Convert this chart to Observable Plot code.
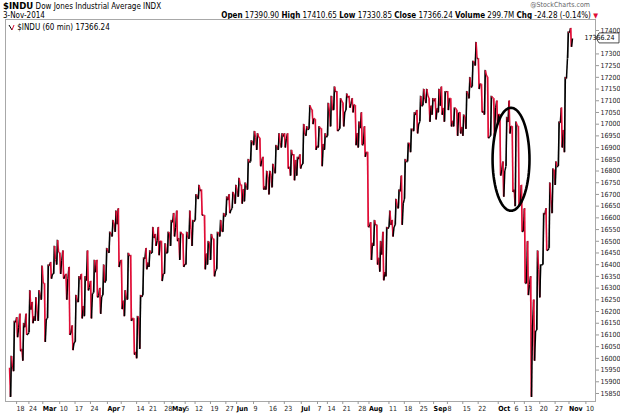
<!DOCTYPE html>
<html><head><meta charset="utf-8">
<script src="https://cdn.jsdelivr.net/npm/d3@7"></script>
<script src="https://cdn.jsdelivr.net/npm/@observablehq/plot@0.6"></script>
<style>
body{margin:0;background:#fff;}
#wrap{position:relative;width:620px;height:415px;overflow:hidden;background:#fff;
 font-family:"Liberation Sans Narrow","Arial Narrow","DejaVu Sans Condensed",sans-serif;color:#000;}
.hdr{position:absolute;font-size:8px;white-space:nowrap;line-height:9px;}
#chart{position:absolute;left:0;top:19px;}
</style></head><body>
<div id="wrap">
<div class="hdr" style="left:3px;top:1px;"><b style="font-size:9.5px">$INDU</b> Dow Jones Industrial Average INDX</div>
<div class="hdr" style="left:3px;top:11px;">3-Nov-2014</div>
<div class="hdr" style="right:30px;top:1px;color:#666;font-size:7px">@StockCharts.com</div>
<div class="hdr" id="ohlc" style="right:22px;top:11px;"></div>
<div id="chart"></div>
<div class="hdr" id="legend" style="left:8px;top:23px;"></div>
</div>
<script>
// ---- data (60-min $INDU, summarised per session: high / low / close) ----
const firstSession = "2014-02-13";
const lastAxisDay = "2014-11-21";
const holidays = ["2014-02-17","2014-04-18","2014-05-26","2014-07-04","2014-09-01"];
const firstOpen = 15960;

const high = [
 // Feb 13..28
 16010,16160,16175,16190,16150,16190,16290,16240,16260,16290,16395,
 // Mar
 16320,16400,16410,16480,16505,16450,16460,16360,16390,16140,16270,16350,16360,16350,16460,16330,16420,16420,16300,16400,16470,
 // Apr
 16540,16590,16630,16640,16420,16290,16450,16440,16170,16180,16270,16430,16470,16460,16560,16530,16560,16500,16490,16540,16590,
 // May
 16620,16630,16540,16530,16540,16630,16590,16700,16740,16720,16610,16500,16530,16510,16540,16590,16620,16690,16700,16710,16740,
 // Jun
 16770,16740,16750,16850,16930,16970,16960,16940,16860,16800,16800,16830,16910,16960,16960,16960,16960,16890,16870,16860,16870,
 // Jul
 17000,16990,17080,17060,17020,16990,16980,16960,17090,17120,17160,17140,17110,17090,17130,17120,17110,17080,17010,17050,16990,16880,
 // Aug
 16580,16590,16570,16500,16540,16560,16630,16590,16680,16720,16780,16850,16920,16980,17050,17060,17120,17150,17150,17110,17110,
 // Sep
 17110,17150,17160,17140,17140,17110,17070,17060,17050,17040,17140,17200,17270,17350,17280,17170,17230,17200,17120,17110,17100,
 // Oct
 17040,16840,17030,17100,16990,17010,16990,16740,16640,16500,16350,16250,16460,16400,16620,16640,16750,16810,16840,17010,17070,17200,17395,
 // Nov 3
 17410
];
const low = [
 15835,15945,16090,16030,15990,16100,16110,16150,16160,16160,16250,
 16070,16170,16340,16360,16400,16360,16340,16250,16100,16035,16070,16240,16170,16180,16290,16170,16280,16260,16190,16270,16330,
 16450,16520,16540,16390,16210,16180,16250,16160,16015,16000,16040,16270,16380,16390,16450,16480,16440,16330,16360,16450,16480,
 16520,16500,16420,16390,16400,16510,16480,16590,16680,16610,16380,16400,16420,16350,16380,16520,16540,16610,16620,16640,16660,
 16690,16660,16670,16720,16840,16910,16890,16820,16720,16720,16700,16730,16790,16890,16900,16900,16810,16780,16760,16780,16810,
 16830,16950,16980,17000,16890,16900,16820,16890,16950,16990,17060,16970,16980,16990,17060,17070,17050,16910,16900,16910,16860,16560,
 16420,16480,16400,16370,16333,16350,16560,16520,16570,16640,16570,16680,16840,16880,16970,16960,17010,17080,17090,17010,17040,
 17020,17050,17040,17010,17060,16990,16990,16950,16960,16950,16980,17110,17160,17250,17150,17050,17040,16940,16950,16950,17000,
 16780,16690,16820,16960,16710,16650,16650,16540,16320,16270,15835,15990,16120,16260,16400,16460,16470,16620,16740,16820,16900,16880,17280,
 17330
];
const close = [
 15963,16154,16130,16040,16133,16103,16208,16179,16198,16272,16322,
 16168,16396,16360,16422,16453,16419,16351,16340,16109,16066,16248,16337,16223,16332,16303,16277,16368,16268,16264,16324,16458,
 16533,16573,16573,16413,16246,16257,16438,16171,16027,16174,16263,16425,16409,16449,16514,16502,16501,16361,16448,16535,16581,
 16559,16513,16531,16402,16519,16551,16584,16696,16715,16613,16447,16492,16512,16375,16533,16543,16606,16676,16634,16699,16717,
 16743,16722,16738,16836,16924,16943,16945,16844,16734,16776,16782,16808,16906,16921,16947,16937,16818,16868,16847,16851,16827,
 16957,16976,17068,17025,16907,16985,16915,16944,17056,17061,17138,16977,17100,17052,17114,17087,17084,16961,16983,16913,16881,16563,
 16493,16569,16429,16443,16368,16554,16570,16561,16652,16713,16663,16839,16919,16979,17040,17001,17077,17107,17122,17079,17098,
 17068,17079,17069,17138,17111,17014,17068,17049,16988,17031,17131,17157,17266,17280,17173,17056,17210,16946,17113,17071,17043,
 16805,16802,17009,16992,16720,16995,16660,16544,16321,16315,16142,16117,16380,16400,16615,16462,16677,16805,16818,17006,16975,17195,17391,
 17366
];

const tickDates = ["2014-02-18","2014-02-24","2014-03-03","2014-03-10","2014-03-17","2014-03-24","2014-04-01","2014-04-07","2014-04-14","2014-04-21","2014-04-28","2014-05-01","2014-05-05","2014-05-12","2014-05-19","2014-05-27","2014-06-02","2014-06-09","2014-06-16","2014-06-23","2014-07-01","2014-07-07","2014-07-14","2014-07-21","2014-07-28","2014-08-01","2014-08-11","2014-08-18","2014-08-25","2014-09-02","2014-09-08","2014-09-15","2014-09-22","2014-10-01","2014-10-06","2014-10-13","2014-10-20","2014-10-27","2014-11-03","2014-11-10"];
const tickLabels = ["18","24","Mar","10","17","24","Apr","7","14","21","28","May","5","12","19","27","Jun","9","16","23","Jul","7","14","21","28","Aug","11","18","25","Sep","8","15","22","Oct","6","13","20","27","Nov","10"];
// 17350 sits under the last-value marker in the reference, so it is not labelled
const yTicks = d3.range(15850, 17401, 50).filter(v => v !== 17350);

const lastValue = 17366.24;
const quote = {Open:"17390.90", High:"17410.65", Low:"17330.85", Close:"17366.24", Volume:"299.7M", Chg:"-24.28 (-0.14%)"};
const circled = {from:"2014-09-29", to:"2014-10-14", hi:17070, lo:16630};

// ---- trading sessions (weekdays minus exchange holidays) ----
const fmt = d3.utcFormat("%Y-%m-%d");
const sessions = d3.utcDays(new Date(firstSession), d3.utcDay.offset(new Date(lastAxisDay), 1))
  .filter(d => d.getUTCDay() > 0 && d.getUTCDay() < 6 && !holidays.includes(fmt(d)))
  .map(fmt);
const idx = s => sessions.indexOf(s);

// intraday path of each session: open -> first extreme -> second extreme -> close
const pts = [];
close.forEach((c, i) => {
  const o = i === 0 ? firstOpen : close[i - 1];
  const up = c >= o;
  pts.push({x: i + 0.02, v: o});
  pts.push({x: i + 0.33, v: up ? low[i] : high[i]});
  pts.push({x: i + 0.66, v: up ? high[i] : low[i]});
  pts.push({x: i + 0.98, v: c});
});
const segs = d3.pairs(pts).map(([a, b]) => ({x1: a.x, y1: a.v, x2: b.x, y2: b.v, up: b.v >= a.v}));
const bars = close.map((c, i) => ({x: i + 0.5, high: high[i], low: low[i], up: c >= (i === 0 ? firstOpen : close[i - 1])}));

const ticks = tickDates.map((d, i) => ({x: idx(d), label: tickLabels[i], month: /[A-Za-z]/.test(tickLabels[i])}));
ticks.forEach((t, i) => { t.afterMonth = !t.month && i > 0 && ticks[i - 1].month && t.x - ticks[i - 1].x <= 3; });
const labelOf = v => ticks.find(t => t.x === v).label;

// ellipse annotation in data space
const cx = (idx(circled.from) + idx(circled.to) + 1) / 2;
const rx = (idx(circled.to) + 1 - idx(circled.from)) / 2;
const cy = (circled.hi + circled.lo) / 2, ry = (circled.hi - circled.lo) / 2;
const ell = d3.range(0, 361, 5).map(a => ({x: cx + rx * Math.cos(a * Math.PI / 180), y: cy + ry * Math.sin(a * Math.PI / 180)}));

const font = '"Liberation Sans Narrow","Arial Narrow","DejaVu Sans Condensed",sans-serif';
const RED = "#e00d36";
const axisOpts = {label: null, tickSize: 3, tickPadding: 2, textAnchor: "start", fontSize: 7, stroke: "#999", tickFormat: labelOf};

const chart = Plot.plot({
  width: 620, height: 396,
  marginLeft: 5, marginRight: 25, marginTop: 0, marginBottom: 14,
  x: {type: "linear", domain: [-1.28, 190.45], axis: null},
  y: {domain: [15815.8, 17447], axis: null},
  style: {fontFamily: font, background: "white", overflow: "visible"},
  marks: [
    Plot.ruleX(bars, {x: "x", y1: "low", y2: "high", stroke: d => d.up ? "#333" : RED, strokeWidth: 1.2, strokeOpacity: 0.75}),
    Plot.link(segs, {x1: "x1", y1: "y1", x2: "x2", y2: "y2", stroke: d => d.up ? "#000" : RED, strokeWidth: 1.5}),
    Plot.line(ell, {x: "x", y: "y", stroke: "#000", strokeWidth: 2.6, curve: "linear"}),
    Plot.frame({stroke: "#a8a8a8"}),
    Plot.axisX(ticks.filter(t => !t.month && !t.afterMonth).map(t => t.x), {...axisOpts, dx: 1, fill: "#222"}),
    Plot.axisX(ticks.filter(t => t.afterMonth).map(t => t.x), {...axisOpts, dx: 6.5, fill: "#222"}),
    Plot.axisX(ticks.filter(t => t.month).map(t => t.x), {...axisOpts, dx: -0.5, fontWeight: "bold", fill: "#000"}),
    Plot.axisY(yTicks, {label: null, anchor: "right", tickSize: 3, tickPadding: 2, fontSize: 7, stroke: "#999", fill: "#222", tickFormat: d => String(d)})
  ]
});
document.getElementById("chart").appendChild(chart);

// last value marker on the right axis
const svg = d3.select(chart);
const yv = chart.scale("y").apply(lastValue);
const g = svg.append("g");
g.append("path").attr("d", `M596,${yv} L599,${yv-5} L619,${yv-5} L619,${yv+5} L599,${yv+5} Z`)
  .attr("fill", "#fff").attr("stroke", "#222").attr("stroke-width", 0.8);
g.append("text").attr("x", 599.5).attr("y", yv + 2.5).attr("font-size", 7).attr("font-family", font).text(lastValue.toFixed(2));

// header quote line
document.getElementById("ohlc").innerHTML = Object.entries(quote)
  .map(([k, v]) => `<b>${k}</b> ${v}`).join(" ") + ` <span style="color:${RED};font-size:7px">&#9660;</span>`;
document.getElementById("legend").innerHTML =
  `<svg width="7" height="7" style="vertical-align:-1px"><line x1="1" y1="1" x2="4" y2="6" stroke="#000"/><line x1="4" y1="6" x2="6" y2="1" stroke="${RED}"/></svg> $INDU (60 min) ${lastValue.toFixed(2)}`;
</script>
</body></html>
